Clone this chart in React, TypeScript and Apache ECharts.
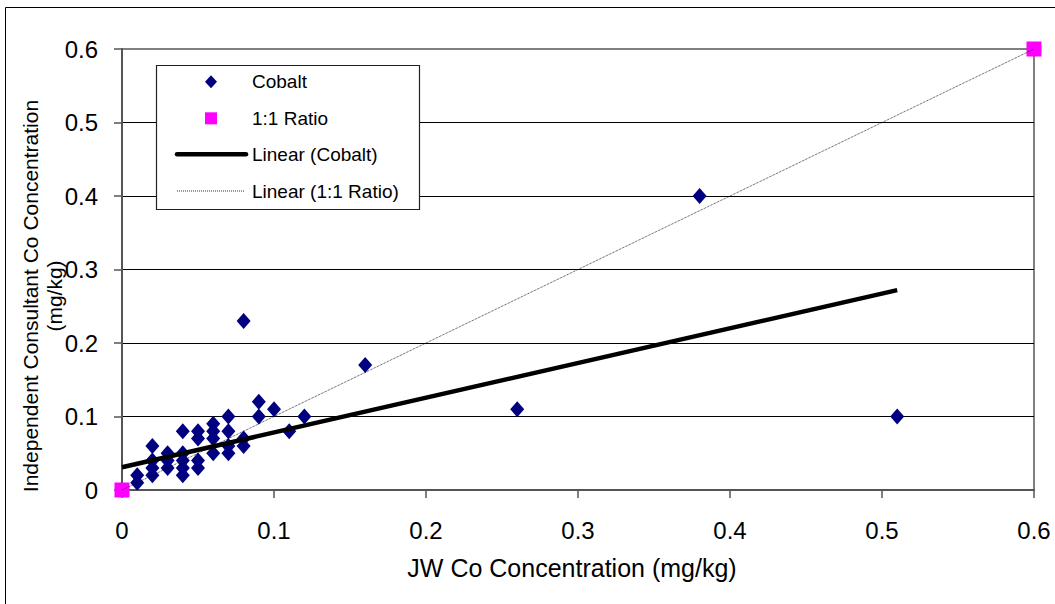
import React, { useEffect, useRef } from "react";
import * as echarts from "echarts";

const cobaltX = [0.01, 0.01, 0.02, 0.02, 0.02, 0.02, 0.03, 0.03, 0.03, 0.04, 0.04, 0.04, 0.04, 0.04, 0.05, 0.05, 0.05, 0.05, 0.06, 0.06, 0.06, 0.06, 0.07, 0.07, 0.07, 0.07, 0.08, 0.08, 0.08, 0.09, 0.09, 0.10, 0.11, 0.12, 0.16, 0.26, 0.38, 0.51];
const cobaltY = [0.01, 0.02, 0.06, 0.04, 0.03, 0.02, 0.05, 0.04, 0.03, 0.08, 0.05, 0.04, 0.03, 0.02, 0.08, 0.07, 0.04, 0.03, 0.09, 0.08, 0.07, 0.05, 0.10, 0.08, 0.06, 0.05, 0.07, 0.06, 0.23, 0.12, 0.10, 0.11, 0.08, 0.10, 0.17, 0.11, 0.40, 0.10];
const ratioX = [0, 0.6];
const ratioY = [0, 0.6];
const trendCobaltX = [0, 0.51];
const trendCobaltY = [0.031, 0.272];
const tickValues = [0, 0.1, 0.2, 0.3, 0.4, 0.5, 0.6];

const legendNames = ["Cobalt", "1:1 Ratio", "Linear (Cobalt)", "Linear (1:1 Ratio)"];
const xTitle = "JW Co Concentration (mg/kg)";
const yTitle1 = "Independent Consultant Co Concentration";
const yTitle2 = "(mg/kg)";

const FONT = "'Liberation Sans', Arial, sans-serif";
const NAVY = "#000080";
const MAGENTA = "#FF00FF";

const fmt = (v: number) => {
  const r = parseFloat(v.toFixed(1));
  return r === 0 ? "0" : String(r);
};

export default function App() {
  const ref = useRef<HTMLDivElement>(null);
  useEffect(() => {
    if (!ref.current) return;
    const chart = echarts.init(ref.current, undefined, { renderer: "svg" });
    const step = tickValues[1] - tickValues[0];
    const axisCommon = {
      type: "value" as const,
      min: tickValues[0],
      max: tickValues[tickValues.length - 1],
      interval: step,
      axisLine: { show: true, lineStyle: { color: "#555", width: 2 } },
      axisTick: { show: true, length: 8, lineStyle: { color: "#555", width: 1.5 } },
      axisLabel: { color: "#000", fontFamily: FONT, fontSize: 24, formatter: fmt },
    };
    const legY = [81.7, 118.3, 154.3, 191];
    chart.setOption({
      animation: false,
      backgroundColor: "#fff",
      grid: {
        left: 122,
        top: 49,
        right: 21,
        bottom: 114,
        show: true,
        borderColor: "#808080",
        borderWidth: 2,
        backgroundColor: "transparent",
      },
      xAxis: {
        ...axisCommon,
        splitLine: { show: false },
        axisLabel: { ...axisCommon.axisLabel, margin: 28 },
      },
      yAxis: {
        ...axisCommon,
        splitLine: { show: true, showMinLine: false, showMaxLine: false, lineStyle: { color: "#000", width: 1 } },
        axisLabel: { ...axisCommon.axisLabel, margin: 24 },
      },
      series: [
        {
          name: legendNames[0],
          type: "scatter",
          symbol: "diamond",
          symbolSize: [14, 16],
          clip: false,
          itemStyle: { color: NAVY, opacity: 1 },
          data: cobaltX.map((x, i) => [x, cobaltY[i]]),
          z: 2,
        },
        {
          name: legendNames[1],
          type: "scatter",
          symbol: "rect",
          symbolSize: 15,
          clip: false,
          itemStyle: { color: MAGENTA, opacity: 1 },
          data: ratioX.map((x, i) => [x, ratioY[i]]),
          z: 2,
        },
        {
          name: legendNames[2],
          type: "line",
          symbol: "none",
          clip: false,
          lineStyle: { color: "#000", width: 4.5 },
          data: trendCobaltX.map((x, i) => [x, trendCobaltY[i]]),
          z: 3,
        },
        {
          name: legendNames[3],
          type: "line",
          symbol: "none",
          clip: false,
          lineStyle: { color: "#000", width: 0.8, type: "dotted" },
          data: ratioX.map((x, i) => [x, ratioY[i]]),
          z: 4,
        },
      ],
      graphic: [
        {
          type: "rect",
          shape: { x: 5.5, y: 7.5, width: 1200, height: 800 },
          style: { fill: "none", stroke: "#000", lineWidth: 1 },
          silent: true,
        },
        {
          type: "text",
          x: 572,
          y: 568,
          style: { text: xTitle, font: `25px ${FONT}`, fill: "#000", align: "center", verticalAlign: "middle" },
        },
        {
          type: "text",
          x: 30,
          y: 296,
          rotation: Math.PI / 2,
          style: { text: yTitle1, font: `21px ${FONT}`, fill: "#000", align: "center", verticalAlign: "middle" },
        },
        {
          type: "text",
          x: 54,
          y: 296,
          rotation: Math.PI / 2,
          style: { text: yTitle2, font: `21px ${FONT}`, fill: "#000", align: "center", verticalAlign: "middle" },
        },
        {
          type: "rect",
          shape: { x: 156.5, y: 65.5, width: 263, height: 144 },
          style: { fill: "#fff", stroke: "#222", lineWidth: 1.2 },
          z: 10,
        },
        {
          type: "polygon",
          shape: { points: [[211, legY[0] - 6.5], [217, legY[0]], [211, legY[0] + 6.5], [205, legY[0]]] },
          style: { fill: NAVY },
          z: 11,
        },
        {
          type: "rect",
          shape: { x: 205, y: legY[1] - 6, width: 12, height: 12 },
          style: { fill: MAGENTA },
          z: 11,
        },
        {
          type: "line",
          shape: { x1: 177, y1: legY[2], x2: 246, y2: legY[2] },
          style: { stroke: "#000", lineWidth: 4.5, lineCap: "round" },
          z: 11,
        },
        {
          type: "line",
          shape: { x1: 177, y1: legY[3], x2: 245, y2: legY[3] },
          style: { stroke: "#000", lineWidth: 0.8, lineDash: [1, 1] },
          z: 11,
        },
        ...legendNames.map((n, i) => ({
          type: "text",
          x: 252,
          y: legY[i],
          z: 11,
          style: { text: n, font: `19px ${FONT}`, fill: "#000", align: "left", verticalAlign: "middle" },
        })),
      ],
    });
    return () => chart.dispose();
  }, []);
  return (
    <div
      ref={ref}
      style={{ position: "absolute", left: 0, top: 0, width: 1055, height: 604 }}
    />
  );
}
